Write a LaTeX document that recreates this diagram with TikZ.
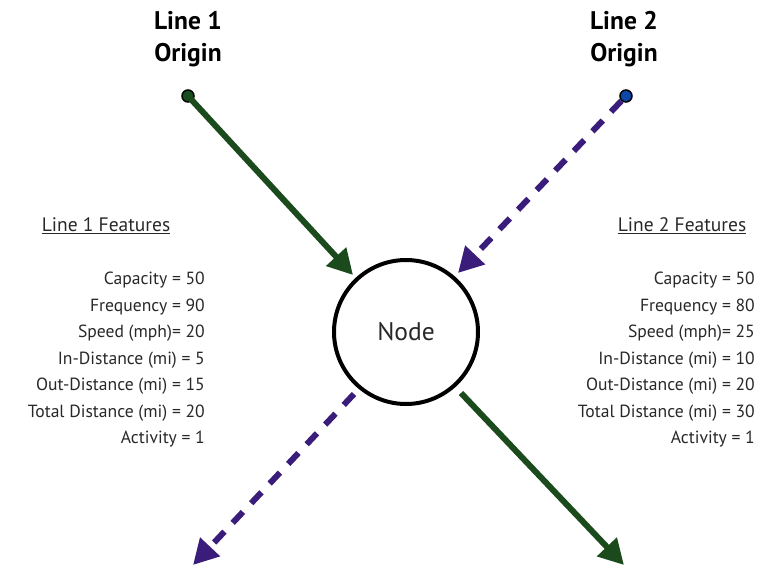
\documentclass[tikz,border=0pt]{standalone}
\usepackage{fontspec}
\setmainfont{PT Sans}
\usetikzlibrary{arrows.meta}
\definecolor{lgreen}{RGB}{27,74,28}
\definecolor{lpurple}{RGB}{58,28,122}
\definecolor{dotblue}{RGB}{12,72,170}
\definecolor{dotgreen}{RGB}{22,78,32}
\definecolor{txt}{RGB}{40,40,40}
\tikzset{
  origintitle/.style={font=\fontsize{25.5}{32}\selectfont\bfseries, align=center, text=black},
  dot/.style={circle, draw=black, line width=1.5pt, minimum size=12pt, inner sep=0pt},
  feat/.style={font=\fontsize{17.6}{26.5}\selectfont, align=right, text=txt, anchor=north east, inner sep=0pt},
  feathead/.style={font=\fontsize{19.5}{22}\selectfont, text=txt, inner sep=0pt},
  solidarrow/.style={draw=lgreen, line width=6pt, -{Triangle[length=25pt,width=26pt]}},
  dashedarrow/.style={draw=lpurple, line width=6pt, dash pattern=on 15pt off 12pt, -{Triangle[length=25pt,width=26pt]}}
}
\begin{document}
\begin{tikzpicture}[x=1pt,y=-1pt]
\useasboundingbox (0,0) rectangle (782,567);
\node[origintitle] (t1) at (188,39) {Line 1\\Origin};
\node[origintitle] (t2) at (624,39) {Line 2\\Origin};
\node[dot, fill=dotgreen] (o1) at (188,96) {};
\node[dot, fill=dotblue] (o2) at (626,96) {};
\node[circle, draw=black, line width=4pt, minimum size=144pt, inner sep=0pt,
      font=\fontsize{25.5}{30}\selectfont, text=txt] (n) at (406,332) {Node};
\coordinate (e1) at (353,275);
\coordinate (e2) at (458,273);
\coordinate (s3) at (354,394);
\coordinate (e3) at (193,565);
\coordinate (s4) at (461,393);
\coordinate (e4) at (624,565);
\draw[solidarrow] (o1.center) -- (e1);
\draw[dashedarrow] (o2) -- (e2);
\draw[dashedarrow] (s3) -- (e3);
\draw[solidarrow] (s4) -- (e4);
\node[feathead] (h1) at (106,226) {\underline{Line 1 Features}};
\node[feathead] (h2) at (682,226) {\underline{Line 2 Features}};
\node[feat] (f1) at (205,272) {Capacity = 50\\Frequency = 90\\Speed (mph)= 20\\In-Distance (mi) = 5\\Out-Distance (mi) = 15\\Total Distance (mi) = 20\\Activity = 1};
\node[feat] (f2) at (755,272) {Capacity = 50\\Frequency = 80\\Speed (mph)= 25\\In-Distance (mi) = 10\\Out-Distance (mi) = 20\\Total Distance (mi) = 30\\Activity = 1};
\end{tikzpicture}
\end{document}
